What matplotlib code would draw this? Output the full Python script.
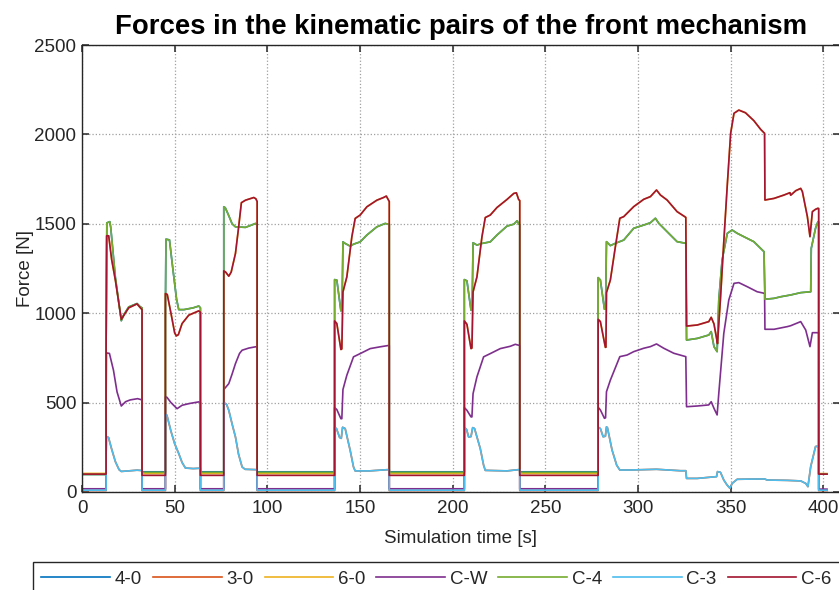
import matplotlib
matplotlib.use("Agg")
import matplotlib.pyplot as plt

plt.rcParams["font.family"] = ["Liberation Sans", "DejaVu Sans"]

# series colours (MATLAB default order)
NAMES = ["4-0", "3-0", "6-0", "C-W", "C-4", "C-3", "C-6"]
COLORS = ["#0072BD", "#D95319", "#EDB120", "#7E2F8E", "#77AC30", "#4DBEEE", "#A2142F"]

T_END = 402.0

# --- active phases: one (times, forces) list per pulse ---
C4_T = [[13.0, 13.4, 15.0, 15.5, 18.0, 21.2, 22.5, 25.2, 29.7, 31.5, 32.4],
        [45.0, 45.3, 47.2, 49.0, 51.0, 52.2, 55.0, 60.0, 63.0, 63.9],
        [76.5, 77.3, 79.0, 81.0, 82.8, 88.2, 92.0, 93.6, 94.5],
        [136.3, 137.5, 139.7, 140.3, 140.8, 142.0, 144.7, 146.5, 150.1, 153.7, 159.1, 163.6, 165.1, 165.8],
        [206.3, 207.7, 209.9, 210.5, 211.0, 213.1, 215.8, 220.3, 223.9, 229.3, 233.0, 234.8, 235.7, 236.2],
        [278.5, 279.7, 281.9, 282.5, 283.0, 285.1, 287.8, 292.3, 297.7, 303.1, 306.7, 309.4, 311.2,
         315.7, 321.1, 325.8, 326.2, 332.0, 338.2, 339.5, 341.0, 342.7, 343.6, 345.4, 348.2, 350.8,
         353.5, 357.1, 362.5, 368.0, 368.5, 373.4, 377.0, 382.4, 387.8, 393.2, 393.5, 395.8, 397.1, 397.5]]
C4_F = [[800, 1505, 1512, 1480, 1200, 958, 990, 1035, 1054, 1035, 1030],
        [1000, 1414, 1410, 1250, 1080, 1020, 1020, 1030, 1040, 1030],
        [1595, 1590, 1550, 1500, 1483, 1480, 1495, 1502, 1495],
        [1188, 1185, 1013, 1020, 1399, 1390, 1375, 1386, 1399, 1437, 1483, 1502, 1498, 1495],
        [1188, 1181, 1017, 1020, 1394, 1381, 1390, 1399, 1437, 1487, 1498, 1517, 1498, 1495],
        [1199, 1186, 1022, 1025, 1400, 1378, 1391, 1409, 1475, 1493, 1506, 1531, 1503,
         1456, 1400, 1391, 850, 859, 878, 897, 813, 785, 1074, 1298, 1447, 1465,
         1447, 1428, 1400, 1344, 1078, 1083, 1092, 1102, 1115, 1120, 1363, 1475, 1512, 1510]]

C6_T = [[13.0, 13.3, 14.4, 16.0, 18.0, 21.2, 23.0, 25.2, 29.7, 31.5, 32.4],
        [45.0, 46.0, 48.0, 50.0, 50.9, 52.0, 54.0, 57.6, 63.0, 63.9],
        [76.5, 77.5, 79.2, 80.5, 82.8, 84.5, 86.0, 88.2, 92.7, 93.8, 94.5],
        [136.3, 137.5, 139.7, 140.2, 140.8, 142.9, 145.6, 147.4, 150.1, 153.7, 159.1, 162.7, 164.2, 165.4, 165.8],
        [206.3, 207.7, 209.9, 210.4, 211.0, 213.1, 215.8, 217.6, 220.3, 223.9, 229.3, 233.0, 234.4, 235.6, 236.2],
        [278.5, 279.7, 282.4, 282.7, 283.0, 285.1, 287.8, 290.2, 292.3, 297.7, 303.1, 306.7, 310.0,
         312.1, 315.7, 321.1, 325.8, 326.2, 332.0, 338.2, 339.5, 341.0, 342.4, 342.9, 344.5, 346.3,
         348.2, 350.0, 351.8, 354.4, 358.0, 362.5, 366.2, 368.3, 368.5, 373.4, 378.8, 382.0, 382.4,
         385.1, 387.8, 388.7, 391.4, 392.8, 394.1, 395.8, 397.1, 397.5]]
C6_F = [[780, 1433, 1433, 1300, 1185, 965, 995, 1030, 1052, 1030, 1020],
        [1110, 1105, 1000, 890, 873, 880, 942, 989, 1013, 1005],
        [1237, 1230, 1207, 1230, 1334, 1480, 1618, 1632, 1647, 1640, 1625],
        [957, 942, 797, 800, 1119, 1203, 1427, 1530, 1549, 1595, 1632, 1647, 1655, 1632, 1625],
        [957, 938, 802, 805, 1119, 1203, 1427, 1535, 1549, 1591, 1636, 1670, 1673, 1636, 1630],
        [966, 953, 809, 810, 1115, 1186, 1372, 1531, 1540, 1596, 1637, 1652, 1689,
         1661, 1633, 1568, 1536, 928, 934, 953, 977, 940, 859, 830, 1080, 1400,
         1720, 2006, 2118, 2136, 2121, 2077, 2028, 2006, 1633, 1642, 1661, 1674, 1660,
         1685, 1698, 1680, 1540, 1428, 1568, 1581, 1587, 1585]]

CW_T = [[13.0, 13.2, 14.8, 17.0, 18.9, 21.2, 23.5, 26.0, 30.0, 32.4],
        [45.0, 45.8, 48.0, 51.3, 54.0, 58.0, 63.0, 63.9],
        [76.5, 79.2, 81.0, 82.8, 85.0, 86.4, 90.0, 93.6, 94.5],
        [136.3, 137.5, 139.7, 140.2, 140.8, 142.9, 146.5, 150.1, 155.5, 160.9, 165.1, 165.8],
        [206.3, 207.7, 209.9, 210.4, 211.0, 213.1, 216.7, 220.3, 225.7, 231.1, 233.8, 235.6, 236.2],
        [278.5, 279.7, 281.9, 282.5, 283.0, 285.1, 290.2, 294.1, 297.7, 303.1, 306.7, 310.0, 313.9,
         319.3, 325.8, 326.2, 332.0, 338.2, 339.5, 341.0, 342.7, 343.6, 346.3, 349.0, 351.8, 354.4,
         359.0, 364.3, 368.3, 368.5, 373.4, 380.6, 382.4, 387.8, 390.5, 392.8, 394.1, 397.1, 397.5]]
CW_F = [[500, 778, 775, 680, 560, 481, 505, 515, 522, 515],
        [532, 530, 500, 466, 485, 495, 504, 500],
        [573, 606, 660, 718, 775, 793, 805, 812, 812],
        [472, 461, 410, 410, 573, 653, 756, 774, 802, 812, 819, 819],
        [472, 457, 420, 420, 550, 644, 756, 774, 802, 815, 826, 821, 820],
        [474, 459, 412, 415, 561, 626, 757, 766, 785, 804, 813, 828, 804,
         776, 757, 477, 481, 487, 505, 468, 431, 552, 887, 1074, 1167, 1171,
         1148, 1120, 1111, 910, 910, 925, 930, 953, 906, 813, 891, 891, 890]]

C3_T = [[13.0, 13.2, 14.3, 16.0, 18.0, 20.0, 21.2, 25.0, 29.7, 32.4],
        [45.0, 45.8, 48.0, 50.0, 52.2, 54.0, 55.8, 60.0, 63.9],
        [76.5, 78.0, 79.2, 81.0, 82.8, 84.5, 86.4, 88.0, 93.6, 94.5],
        [136.3, 137.3, 139.0, 139.9, 140.6, 142.0, 144.7, 146.5, 147.4, 155.0, 165.1, 165.8],
        [206.3, 207.5, 208.6, 209.9, 210.8, 211.8, 214.9, 216.7, 217.6, 229.3, 235.6, 236.2],
        [278.5, 279.7, 281.2, 282.4, 283.0, 283.5, 286.0, 288.5, 290.2, 295.9, 310.0, 322.9, 325.8,
         326.2, 332.0, 342.4, 342.9, 344.5, 346.3, 348.0, 349.6, 350.8, 353.5, 359.0, 368.3, 369.7,
         380.6, 387.8, 390.5, 391.7, 393.2, 395.8, 396.7, 397.5]]
C3_F = [[200, 308, 305, 240, 170, 125, 115, 118, 122, 120],
        [433, 430, 340, 270, 215, 165, 134, 131, 133],
        [500, 490, 457, 380, 308, 210, 140, 127, 125, 125],
        [360, 355, 305, 300, 362, 355, 233, 140, 118, 118, 125, 125],
        [360, 350, 308, 310, 360, 355, 243, 150, 121, 118, 125, 125],
        [362, 355, 309, 312, 364, 360, 235, 150, 123, 123, 127, 119, 119,
         76, 76, 86, 114, 110, 67, 40, 21, 48, 71, 72, 73, 67,
         65, 62, 48, 30, 142, 254, 256, 250]]

# --- idle levels: before each pulse and after the last one ---
IDLE_40 = [98, 113, 113, 113, 113, 113, 100]
IDLE_30 = [8, 8, 8, 8, 8, 8, 8]
IDLE_60 = [104, 103, 103, 103, 103, 103, 103]
IDLE_CW = [18, 18, 18, 18, 18, 18, 16]
IDLE_C4 = [98, 110, 110, 110, 110, 110, 100]
IDLE_C3 = [10, 10, 10, 10, 10, 10, 10]
IDLE_C6 = [100, 93, 93, 93, 93, 93, 100]


def build(pulse_t, pulse_f, idle):
    t, f = [0.0], [idle[0]]
    for pt, pf, before, after in zip(pulse_t, pulse_f, idle[:-1], idle[1:]):
        t += [pt[0]] + pt + [pt[-1]]
        f += [before] + pf + [after]
    t.append(T_END)
    f.append(idle[-1])
    return t, f


series = [build(C4_T, C4_F, IDLE_40),
          build(C3_T, C3_F, IDLE_30),
          build(C6_T, C6_F, IDLE_60),
          build(CW_T, CW_F, IDLE_CW),
          build(C4_T, C4_F, IDLE_C4),
          build(C3_T, C3_F, IDLE_C3),
          build(C6_T, C6_F, IDLE_C6)]

TXT = "#262626"
fig = plt.figure(figsize=(8.39, 5.90), dpi=100)
ax = fig.add_axes([82 / 839, 98 / 590, 758 / 839, 447 / 590])

for (t, f), name, col in zip(series, NAMES, COLORS):
    ax.plot(t, f, color=col, lw=1.2, label=name)

ax.set_xlim(0, 409)
ax.set_ylim(0, 2500)
ax.set_xticks(range(0, 401, 50))
ax.set_yticks(range(0, 2501, 500))
ax.grid(True, ls=":", color="#a0a0a0", lw=0.9)
ax.set_axisbelow(True)
ax.tick_params(direction="in", top=True, right=True, length=5, width=1.1,
               labelsize=13.5, colors=TXT)
ax.tick_params(axis="x", pad=6)
ax.tick_params(axis="y", pad=4)
for s in ax.spines.values():
    s.set_color(TXT)
    s.set_linewidth(1.0)

ax.set_xlabel("Simulation time [s]", fontsize=13.5, color=TXT, labelpad=9)
ax.set_ylabel("Force [N]", fontsize=13.5, color=TXT, labelpad=0)
ax.set_title("Forces in the kinematic pairs of the front mechanism",
             fontsize=19.8, fontweight="bold", pad=8)

leg = fig.legend(loc="upper left", bbox_to_anchor=(33 / 839, 1 - 562 / 590), ncol=7,
                 fontsize=13.5, handlelength=3.65, handletextpad=0.25, columnspacing=0.6,
                 borderpad=0.45, borderaxespad=0, fancybox=False, framealpha=1)
leg.get_frame().set_edgecolor(TXT)
leg.get_frame().set_linewidth(1.0)
for txt in leg.get_texts():
    txt.set_color(TXT)

fig.savefig("out.png", dpi=100)
